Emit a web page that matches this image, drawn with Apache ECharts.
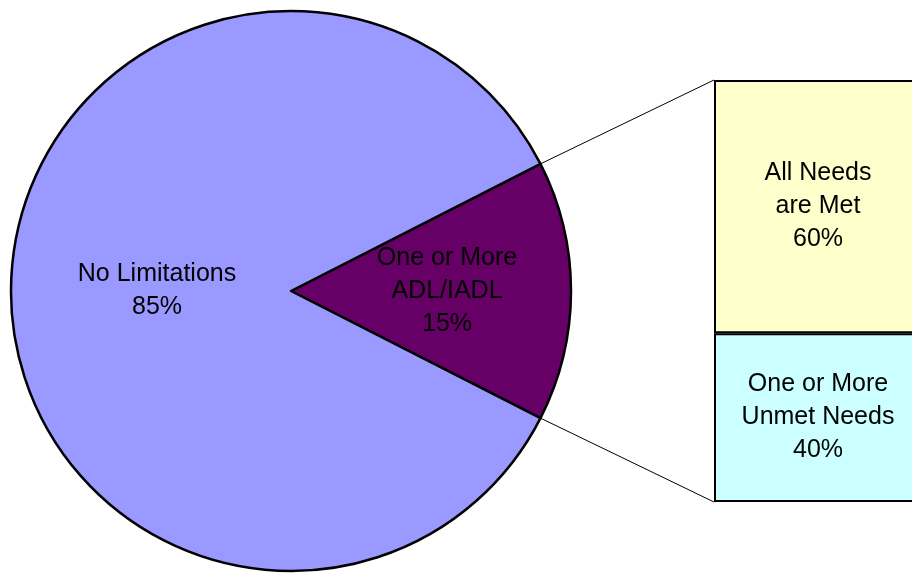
<!DOCTYPE html>
<html>
<head>
<meta charset="utf-8">
<title>Limitations and Needs</title>
<script src="https://cdn.jsdelivr.net/npm/echarts@6/dist/echarts.min.js"></script>
<style>
  html, body { margin: 0; padding: 0; background: #ffffff; }
  #chart { width: 912px; height: 573px; }
</style>
</head>
<body>
<div id="chart"></div>
<script>
// Population split (pie) and breakdown of the limited group (stacked bar)
const pieCategories = ['One or More\nADL/IADL', 'No Limitations'];
const pieValues = [15, 85];
const pieColors = ['#660066', '#9999FF'];

const barCategories = ['One or More\nUnmet Needs', 'All Needs\nare Met'];
const barValues = [40, 60];
const barColors = ['#CCFFFF', '#FFFFCC'];

const PIE_CENTER = [291, 291];
const PIE_RADIUS = 280;

const textStyle = {
  color: '#000',
  fontFamily: 'Liberation Sans, Arial, sans-serif',
  fontSize: 25,
  lineHeight: 33
};

const chart = echarts.init(document.getElementById('chart'), null, { renderer: 'canvas' });

// the exploded slice is centred on the right-hand horizontal
const explodedShare = pieValues[0] / pieValues.reduce((a, b) => a + b, 0);
const halfAngle = explodedShare * 180;

const option = {
  animation: false,
  backgroundColor: '#ffffff',
  grid: { left: 714, top: 80, width: 208, height: 422, outerBoundsMode: 'none', containLabel: false },
  xAxis: { type: 'category', data: ['limited'], show: false },
  yAxis: { type: 'value', min: 0, max: 100, show: false },
  series: [
    {
      type: 'pie',
      center: PIE_CENTER,
      radius: PIE_RADIUS,
      startAngle: halfAngle,
      clockwise: true,
      silent: true,
      emphasis: { disabled: true },
      itemStyle: { borderColor: '#000', borderWidth: 2.5 },
      label: Object.assign({
        show: true,
        position: 'inner',
        formatter: p => p.name + '\n' + p.value + '%'
      }, textStyle),
      labelLine: { show: false },
      data: pieCategories.map((name, i) => ({
        name,
        value: pieValues[i],
        itemStyle: { color: pieColors[i] },
        label: i === 0 ? { padding: [0, 0, 0, 26] } : { padding: [0, 0, 0, 18] }
      }))
    }
  ].concat(barCategories.map((name, i) => ({
    type: 'bar',
    name,
    stack: 'limited',
    barWidth: '100%',
    silent: true,
    emphasis: { disabled: true },
    itemStyle: { color: barColors[i], borderColor: '#000', borderWidth: 2 },
    label: Object.assign({
      show: true,
      position: 'inside',
      formatter: p => p.seriesName + '\n' + p.value + '%'
    }, textStyle),
    data: [barValues[i]]
  })))
};

chart.setOption(option);

// connector lines from the exploded slice corners to the bar's corners
const rad = halfAngle * Math.PI / 180;
const sliceTop = [PIE_CENTER[0] + PIE_RADIUS * Math.cos(rad), PIE_CENTER[1] - PIE_RADIUS * Math.sin(rad)];
const sliceBottom = [PIE_CENTER[0] + PIE_RADIUS * Math.cos(rad), PIE_CENTER[1] + PIE_RADIUS * Math.sin(rad)];
const total = barValues.reduce((a, b) => a + b, 0);
const barTopPx = chart.convertToPixel({ gridIndex: 0 }, [0, total]);
const barBottomPx = chart.convertToPixel({ gridIndex: 0 }, [0, 0]);
const barLeft = 714;

chart.setOption({
  graphic: [
    {
      type: 'line', silent: true, z: 10,
      shape: { x1: sliceTop[0], y1: sliceTop[1], x2: barLeft, y2: barTopPx[1] },
      style: { stroke: '#000', lineWidth: 1 }
    },
    {
      type: 'line', silent: true, z: 10,
      shape: { x1: sliceBottom[0], y1: sliceBottom[1], x2: barLeft, y2: barBottomPx[1] },
      style: { stroke: '#000', lineWidth: 1 }
    }
  ]
});
</script>
</body>
</html>
